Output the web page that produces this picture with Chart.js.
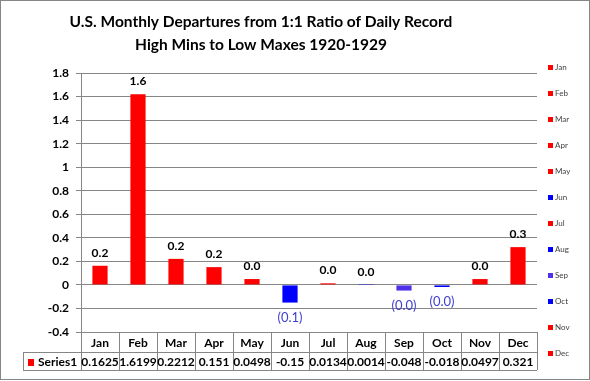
<!DOCTYPE html>
<html lang="en">
<head>
<meta charset="UTF-8">
<title>Departures 1920-1929</title>
<script src="https://cdn.jsdelivr.net/npm/chart.js"></script>
<style>
  body { margin: 0; background: #fff; }
</style>
</head>
<body>
<canvas id="myChart" width="590" height="381"></canvas>
<script>
// dados do grafico
var meses = ['Jan', 'Feb', 'Mar', 'Apr', 'May', 'Jun', 'Jul', 'Aug', 'Sep', 'Oct', 'Nov', 'Dec'];
var valores = [0.1625, 1.6199, 0.2212, 0.151, 0.0498, -0.15, 0.0134, 0.0014, -0.048, -0.018, 0.0497, 0.321];
var cores = ['#ff0000', '#ff0000', '#ff0000', '#ff0000', '#ff0000', '#0000ff', '#ff0000', '#0000ff', '#5030e8', '#0000ff', '#ff0000', '#ff0000'];
var nomeSerie = 'Series1';
var titulo = ['U.S. Monthly Departures from 1:1 Ratio of Daily Record', 'High Mins to Low Maxes 1920-1929'];
var yMin = -0.4, yMax = 1.8, yPasso = 0.2;

var fonte = 'Lato, "Open Sans", sans-serif';
var cinza = '#868686';

// rotulos, tabela, legenda e titulo
const extras = {
    id: 'extras',
    afterDatasetsDraw(chart) {
        const ctx = chart.ctx;
        const barras = chart.getDatasetMeta(0).data;
        ctx.save();
        ctx.textAlign = 'center';
        ctx.textBaseline = 'middle';
        barras.forEach((b, i) => {
            let v = valores[i];
            if (v >= 0) {
                ctx.font = 'bold 12px ' + fonte;
                ctx.fillStyle = '#000';
                ctx.fillText(v.toFixed(1), b.x, b.y - 13);
            } else {
                ctx.font = '13px ' + fonte;
                ctx.fillStyle = '#4040d0';
                ctx.fillText('(' + Math.abs(v).toFixed(1) + ')', b.x, b.y + 15);
            }
        });
        ctx.restore();
    },
    afterDraw(chart) {
        const ctx = chart.ctx;
        const area = chart.chartArea;
        const x = chart.scales.x;
        const larg = (area.right - area.left) / meses.length;
        ctx.save();

        // titulo
        ctx.fillStyle = '#000';
        ctx.textAlign = 'center';
        ctx.textBaseline = 'middle';
        ctx.font = 'bold 15.5px ' + fonte;
        ctx.fillText(titulo[0], 261, 22);
        ctx.fillText(titulo[1], 261, 45);

        // tabela de dados
        let topo = area.bottom, meio = area.bottom + 20, fim = area.bottom + 38, esq = 23;
        ctx.strokeStyle = cinza;
        ctx.lineWidth = 1;
        ctx.beginPath();
        ctx.moveTo(esq, meio + 0.5); ctx.lineTo(area.right, meio + 0.5);
        ctx.moveTo(esq, fim + 0.5); ctx.lineTo(area.right, fim + 0.5);
        ctx.moveTo(esq + 0.5, meio); ctx.lineTo(esq + 0.5, fim);
        for (let i = 0; i <= meses.length; i++) {
            let xl = Math.round(area.left + i * larg) + 0.5;
            ctx.moveTo(xl, topo); ctx.lineTo(xl, fim);
        }
        ctx.stroke();

        ctx.font = 'bold 12px ' + fonte;
        ctx.fillStyle = '#000';
        meses.forEach((m, i) => {
            let cx = x.getPixelForValue(i);
            ctx.fillText(m, cx, (topo + meio) / 2 + 1);
            ctx.fillText(String(valores[i]), cx, (meio + fim) / 2 + 1);
        });
        ctx.fillStyle = '#ff0000';
        ctx.fillRect(28, 359, 6, 7);
        ctx.fillStyle = '#000';
        ctx.textAlign = 'left';
        ctx.fillText(nomeSerie, 38, (meio + fim) / 2 + 1);

        // legenda
        ctx.font = '8px ' + fonte;
        meses.forEach((m, i) => {
            let ly = 67.5 + i * 26;
            ctx.fillStyle = cores[i];
            ctx.fillRect(548, Math.round(ly - 2.5), 5, 5);
            ctx.fillStyle = '#404040';
            ctx.fillText(m, 555, ly);
        });

        // borda
        ctx.strokeStyle = cinza;
        ctx.strokeRect(0.5, 0.5, chart.width - 1, chart.height - 2);
        ctx.restore();
    }
};

new Chart(document.getElementById('myChart'), {
    type: 'bar',
    data: {
        labels: meses,
        datasets: [{
            label: nomeSerie,
            data: valores,
            backgroundColor: cores,
            barPercentage: 0.8,
            categoryPercentage: 0.5
        }]
    },
    options: {
        responsive: false,
        animation: false,
        layout: { padding: { left: 0, right: 53, top: 73, bottom: 49 } },
        plugins: {
            legend: { display: false },
            tooltip: { enabled: false }
        },
        scales: {
            x: { display: false },
            y: {
                min: yMin,
                max: yMax,
                afterFit(scale) { scale.width = 81; },
                ticks: {
                    stepSize: yPasso,
                    padding: 7,
                    color: '#000',
                    font: { family: fonte, size: 12, weight: 'bold' },
                    callback: (v) => Math.round(v * 10) / 10
                },
                grid: { color: cinza, tickLength: 5, tickColor: cinza },
                border: { color: cinza }
            }
        }
    },
    plugins: [extras]
});
</script>
</body>
</html>
